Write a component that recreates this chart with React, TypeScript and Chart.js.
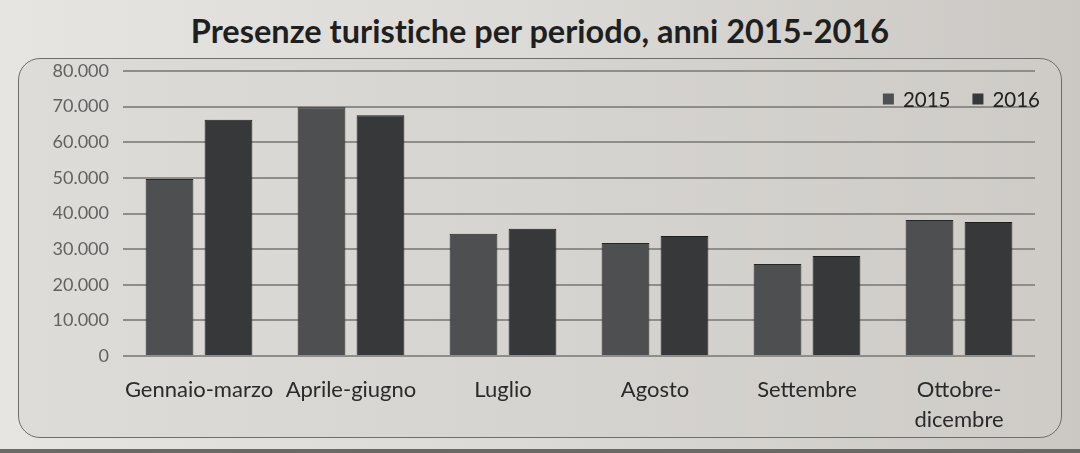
import React, { useEffect, useRef } from "react";
import { Chart, registerables } from "chart.js";

Chart.register(...registerables);

const categories: (string | string[])[] = [
  "Gennaio-marzo",
  "Aprile-giugno",
  "Luglio",
  "Agosto",
  "Settembre",
  ["Ottobre-", "dicembre"],
];
const seriesLabels = ["2015", "2016"];
const values2015 = [49700, 69800, 34300, 31700, 25800, 38200];
const values2016 = [66300, 67600, 35700, 33700, 28100, 37600];
const yMax = 80000;
const yStep = 10000;
const titleText = "Presenze turistiche per periodo, anni 2015-2016";

const FONT = "Lato, 'Open Sans', sans-serif";

function fmt(v: number): string {
  return String(v).replace(/\B(?=(\d{3})+(?!\d))/g, ".");
}

const insideLegend = {
  id: "insideLegend",
  afterDraw(chart: any) {
    const { ctx, chartArea } = chart;
    ctx.save();
    ctx.font = `20.5px ${FONT}`;
    ctx.textBaseline = "middle";
    const box = 11;
    const gapBoxText = 9;
    const gapItems = 22;
    const items = chart.data.datasets.map((d: any) => ({
      label: d.label,
      color: d.backgroundColor,
      w: ctx.measureText(d.label).width,
    }));
    let total = 0;
    items.forEach((it: any, i: number) => {
      total += box + gapBoxText + it.w + (i < items.length - 1 ? gapItems : 0);
    });
    let x = chartArea.right + 5 - total;
    const y = chartArea.top + 28;
    items.forEach((it: any) => {
      ctx.fillStyle = it.color;
      ctx.fillRect(x, y - box / 2, box, box);
      x += box + gapBoxText;
      ctx.fillStyle = "#222";
      ctx.fillText(it.label, x, y + 1);
      x += it.w + gapItems;
    });
    ctx.restore();
  },
};

export default function App() {
  const ref = useRef<HTMLCanvasElement | null>(null);

  useEffect(() => {
    if (!ref.current) return;
    const chart = new Chart(ref.current, {
      type: "bar",
      data: {
        labels: categories,
        datasets: [
          {
            label: seriesLabels[0],
            data: values2015,
            backgroundColor: "#4e4f50",
            borderColor: "#262626",
            borderWidth: 1,
          },
          {
            label: seriesLabels[1],
            data: values2016,
            backgroundColor: "#36383a",
            borderColor: "#1e1e1e",
            borderWidth: 1,
          },
        ],
      },
      options: {
        animation: false,
        responsive: false,
        maintainAspectRatio: false,
        datasets: { bar: { categoryPercentage: 0.776, barPercentage: 0.81 } },
        layout: { padding: { left: 18, right: 45, top: 71, bottom: 0 } },
        plugins: {
          legend: { display: false },
          title: { display: false },
          tooltip: { enabled: false },
        },
        scales: {
          x: {
            grid: { display: false },
            border: { display: false },
            ticks: {
              color: "#2a2a2a",
              font: { family: FONT, size: 22, lineHeight: 1.35 },
              padding: 11,
              maxRotation: 0,
              autoSkip: false,
            },
            afterFit(scale: any) {
              scale.height = 97;
            },
          },
          y: {
            min: 0,
            max: yMax,
            grid: { color: "#8f8d89", lineWidth: 2, drawTicks: false },
            border: { display: false },
            ticks: {
              stepSize: yStep,
              color: "#626262",
              padding: 14,
              font: { family: FONT, size: 18 },
              callback: (v: any) => fmt(Number(v)),
            },
            afterFit(scale: any) {
              scale.width = 105;
            },
          },
        },
      },
      plugins: [insideLegend],
    });
    return () => chart.destroy();
  }, []);

  return (
    <div
      style={{
        position: "absolute",
        left: 0,
        top: 0,
        width: 1080,
        height: 453,
        overflow: "hidden",
        background: "linear-gradient(90deg, #e6e5e2 0%, #dcdad6 50%, #cbc8c4 100%)",
      }}
    >
      <div
        style={{
          position: "absolute",
          left: 0,
          top: 11,
          width: 1080,
          textAlign: "center",
          fontFamily: FONT,
          fontWeight: 700,
          fontSize: 32.5,
          lineHeight: "40px",
          color: "#1f1f1f",
          fontVariantLigatures: "none",
        }}
      >
        {titleText}
      </div>
      <div
        style={{
          position: "absolute",
          left: 18,
          top: 58,
          width: 1042,
          height: 378,
          border: "1.5px solid #6f6e6b",
          borderRadius: 22,
          background: "linear-gradient(90deg, #dddcd9 0%, #d6d4d0 50%, #cfccc8 100%)",
        }}
      />
      <div
        style={{
          position: "absolute",
          left: 0,
          bottom: 0,
          width: 1080,
          height: 4,
          background: "#6a6966",
        }}
      />
      <canvas
        ref={ref}
        width={1080}
        height={453}
        style={{ position: "absolute", left: 0, top: 0, width: 1080, height: 453 }}
      />
    </div>
  );
}
